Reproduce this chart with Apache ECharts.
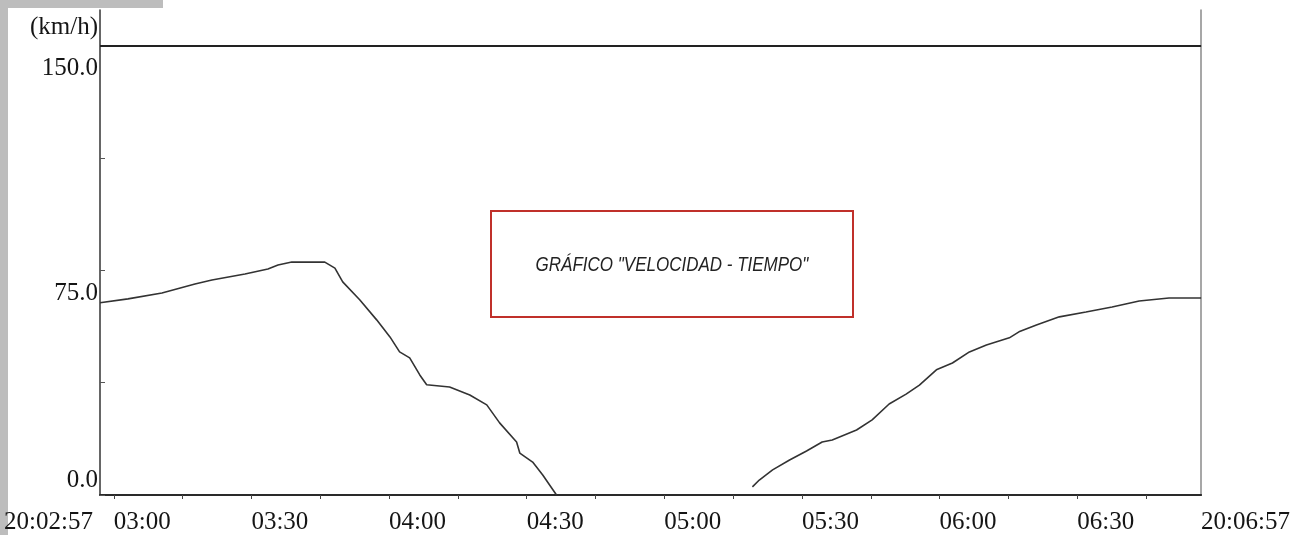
<!DOCTYPE html>
<html>
<head>
<meta charset="utf-8">
<script src="https://cdn.jsdelivr.net/npm/echarts@6/dist/echarts.min.js"></script>
<style>
  html, body { margin: 0; padding: 0; background: #ffffff; }
  #chart { width: 1293px; height: 535px; }
</style>
</head>
<body>
<div id="chart"></div>
<script>
// ---- data (seconds since 20:02:57, speed in km/h) ----
const timeSec = [0, 6.1, 13.5, 20.7, 24.4, 31.6, 36.6, 38.8, 41.8, 49.0, 51.2, 52.9, 56.6, 60.3, 63.2, 65.3, 67.5, 69.7, 71.2, 76.2, 80.6, 84.3, 87.1, 90.8, 91.5, 94.3, 96.5, 99.5,
                 120,
                 142.2, 143.7, 146.6, 150.3, 154.0, 157.4, 159.6, 164.9, 168.3, 172.0, 175.7, 178.6, 182.3, 185.8, 189.5, 193.2, 198.2, 200.3, 204.1, 209.1, 214.9, 220.6, 226.5, 233.0, 240];
const speed = [64.2, 65.5, 67.5, 70.5, 71.8, 73.8, 75.5, 76.8, 77.8, 77.8, 75.8, 71.2, 65.2, 58.5, 52.8, 47.8, 45.8, 40.1, 36.8, 36.1, 33.4, 30.1, 24.1, 17.7, 14.0, 11.0, 6.7, 0,
               null,
               2.7, 5.0, 8.4, 11.7, 14.7, 17.7, 18.4, 21.7, 25.1, 30.4, 33.7, 36.7, 41.8, 44.1, 47.8, 50.1, 52.5, 54.5, 56.8, 59.5, 61.1, 62.8, 64.8, 65.8, 65.8];
const limitSpeed = 150;
const xTickSec = [0, 3, 33, 63, 93, 123, 153, 183, 213, 240];
const xTickLabels = ['20:02:57', '03:00', '03:30', '04:00', '04:30', '05:00', '05:30', '06:00', '06:30', '20:06:57'];
const xMinorTickSec = [3, 18, 33, 48, 63, 78, 93, 108, 123, 138, 153, 168, 183, 198, 213, 228];
const yTickValues = [0, 37.5, 75, 112.5, 150];
const yLabelValues = [0, 75, 150];
const yUnit = '(km/h)';
const boxTitle = 'GRÁFICO "VELOCIDAD - TIEMPO"';

const seriesData = timeSec.map((t, i) => [t, speed[i] === null ? '-' : speed[i]]);
const labelFor = v => {
  const i = xTickSec.indexOf(v);
  return i >= 0 ? xTickLabels[i] : '';
};

const serif = "'Liberation Serif', 'Times New Roman', serif";
const chart = echarts.init(document.getElementById('chart'), null, { renderer: 'canvas' });
chart.setOption({
  animation: false,
  backgroundColor: '#ffffff',
  grid: { left: 100, right: 91, top: 10, bottom: 40, containLabel: false },
  xAxis: [
    {
      type: 'value', min: 0, max: 240, position: 'bottom',
      axisLine: { show: true, onZero: false, lineStyle: { color: '#2a2a2a', width: 2 } },
      axisTick: { show: true, customValues: xMinorTickSec, length: 4, lineStyle: { color: '#444', width: 1 } },
      splitLine: { show: false },
      axisLabel: {
        customValues: xTickSec.slice(1), align: 'left', margin: 15,
        fontFamily: serif, fontSize: 25, color: '#151515',
        formatter: v => labelFor(v)
      }
    },
    {
      type: 'value', min: 0, max: 240, position: 'bottom',
      axisLine: { show: false }, axisTick: { show: false }, splitLine: { show: false },
      axisLabel: {
        customValues: [0], align: 'right', margin: 15, padding: [0, 7, 0, 0],
        fontFamily: serif, fontSize: 25, color: '#151515',
        formatter: v => labelFor(v)
      }
    }
  ],
  yAxis: [
    {
      type: 'value', min: 0, max: 162, interval: 37.5, position: 'left',
      name: yUnit, nameLocation: 'end', nameGap: -17,
      nameTextStyle: { fontFamily: serif, fontSize: 25, color: '#151515', align: 'right', verticalAlign: 'middle', padding: [0, 2, 0, 0] },
      axisLine: { show: true, onZero: false, lineStyle: { color: '#333', width: 1.5 } },
      axisTick: { show: true, inside: true, customValues: yTickValues, length: 5, lineStyle: { color: '#555' } },
      splitLine: { show: false },
      axisLabel: {
        customValues: yLabelValues, margin: 2, verticalAlign: 'middle',
        fontFamily: serif, fontSize: 25, color: '#151515',
        formatter: v => v === 0 ? '{d|' + v.toFixed(1) + '}' : '{u|' + v.toFixed(1) + '}',
        rich: {
          d: { fontFamily: serif, fontSize: 25, color: '#151515', padding: [0, 0, 30, 0] },
          u: { fontFamily: serif, fontSize: 25, color: '#151515', padding: [46, 0, 0, 0] }
        }
      }
    },
    {
      type: 'value', min: 0, max: 162, position: 'right',
      axisLine: { show: true, onZero: false, lineStyle: { color: '#8a8a8a', width: 1.5 } },
      axisTick: { show: false }, axisLabel: { show: false }, splitLine: { show: false }
    }
  ],
  series: [
    {
      type: 'line', xAxisIndex: 0, yAxisIndex: 0,
      data: seriesData, connectNulls: false,
      showSymbol: false, symbol: 'none', smooth: false,
      lineStyle: { color: '#333', width: 1.6 },
      markLine: {
        silent: true, symbol: ['none', 'none'], label: { show: false },
        lineStyle: { color: '#222', width: 2, type: 'solid' },
        data: [{ yAxis: limitSpeed }]
      }
    }
  ],
  graphic: [
    { type: 'rect', left: 0, top: 0, shape: { width: 8, height: 535 }, style: { fill: '#bdbdbd' }, silent: true },
    { type: 'rect', left: 0, top: 0, shape: { width: 163, height: 8 }, style: { fill: '#bdbdbd' }, silent: true },
    { type: 'rect', shape: { x: 491, y: 211, width: 362, height: 106 }, style: { fill: 'rgba(255,255,255,0)', stroke: '#c0302a', lineWidth: 2 }, silent: true },
    { type: 'text', x: 672, y: 265, originX: 0, originY: 0, scaleY: 1.2,
      style: { text: boxTitle, align: 'center', verticalAlign: 'middle', font: "italic 17px 'Liberation Sans', Arial, sans-serif", fill: '#222' }, silent: true }
  ]
});
</script>
</body>
</html>
